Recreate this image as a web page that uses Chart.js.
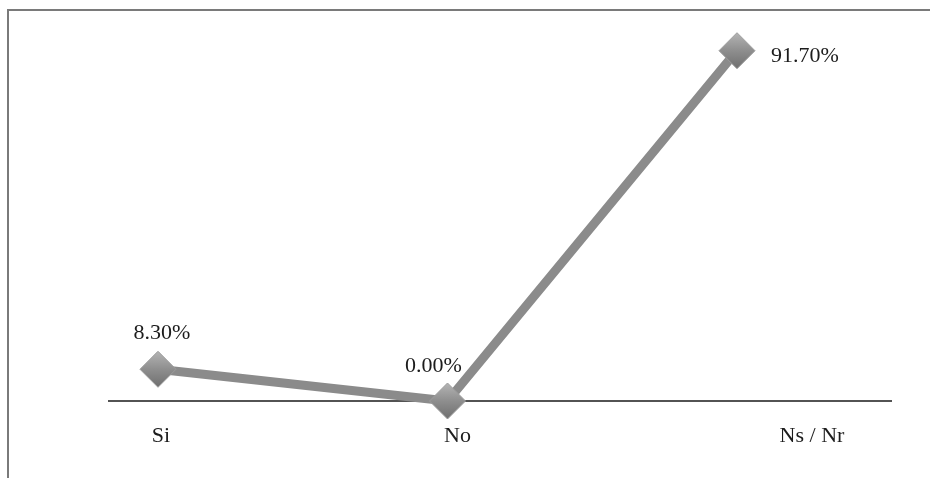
<!DOCTYPE html>
<html>
<head>
<meta charset="utf-8">
<script src="https://cdn.jsdelivr.net/npm/chart.js@4"></script>
<style>
  body { margin: 0; background: #fff; }
  #wrap { width: 930px; height: 478px; }
</style>
</head>
<body>
<div id="wrap"><canvas id="chart" width="930" height="478"></canvas></div>
<script>
// donnees du graphique
const categories = ['Si', 'No', 'Ns / Nr']
const values = [8.3, 0.0, 91.7]
const valueLabels = ['8.30%', '0.00%', '91.70%']

// decalages des textes (style seulement)
const tickShift = [3, 10, 75]
const labelShift = [[4, -36], [-14, -35], [68, 6]]

// cadre + axe + etiquettes
const decor = {
  id: 'decor',
  beforeDraw(chart) {
    const c = chart.ctx
    c.save()
    c.strokeStyle = '#7a7a7a'
    c.lineWidth = 2
    c.beginPath()
    c.moveTo(7, 10)
    c.lineTo(930, 10)
    c.moveTo(8, 10)
    c.lineTo(8, 478)
    c.stroke()
    // ligne de l'axe x
    const y0 = chart.scales.y.getPixelForValue(0)
    c.strokeStyle = '#1a1a1a'
    c.lineWidth = 1.5
    c.beginPath()
    c.moveTo(108, y0)
    c.lineTo(892, y0)
    c.stroke()
    c.restore()
  },
  afterDraw(chart) {
    const c = chart.ctx
    const x = chart.scales.x
    c.save()
    c.fillStyle = '#1c1c1c'
    c.font = '22px "Liberation Serif", "DejaVu Serif", serif'
    c.textAlign = 'center'
    c.textBaseline = 'middle'
    categories.forEach((cat, i) => {
      c.fillText(cat, x.getPixelForValue(i) + tickShift[i], 436)
    })
    chart.getDatasetMeta(0).data.forEach((pt, i) => {
      c.fillText(valueLabels[i], pt.x + labelShift[i][0], pt.y + labelShift[i][1])
    })
    c.restore()
  }
}

// degrade pour les losanges
function diamondFill(ctx) {
  const el = ctx.element
  if (!el || el.x === undefined) return '#8f8f8f'
  const g = ctx.chart.ctx.createLinearGradient(el.x, el.y - 18, el.x, el.y + 18)
  g.addColorStop(0, '#b4b4b4')
  g.addColorStop(0.5, '#8e8e8e')
  g.addColorStop(1, '#6f6f6f')
  return g
}

new Chart(document.getElementById('chart'), {
  type: 'line',
  data: {
    labels: categories,
    datasets: [{
      data: values,
      borderColor: '#8b8b8b',
      borderWidth: 9,
      pointStyle: 'rectRot',
      pointRadius: 18,
      pointBackgroundColor: diamondFill,
      pointBorderColor: '#9c9c9c',
      pointBorderWidth: 1,
      tension: 0,
      clip: false
    }]
  },
  options: {
    responsive: false,
    animation: false,
    layout: { padding: { left: 158, right: 193, top: 16, bottom: 77 } },
    plugins: { legend: { display: false }, tooltip: { enabled: false } },
    scales: {
      x: { type: 'category', offset: false, display: false },
      y: { min: 0, max: 100, display: false }
    }
  },
  plugins: [decor]
})
</script>
</body>
</html>
